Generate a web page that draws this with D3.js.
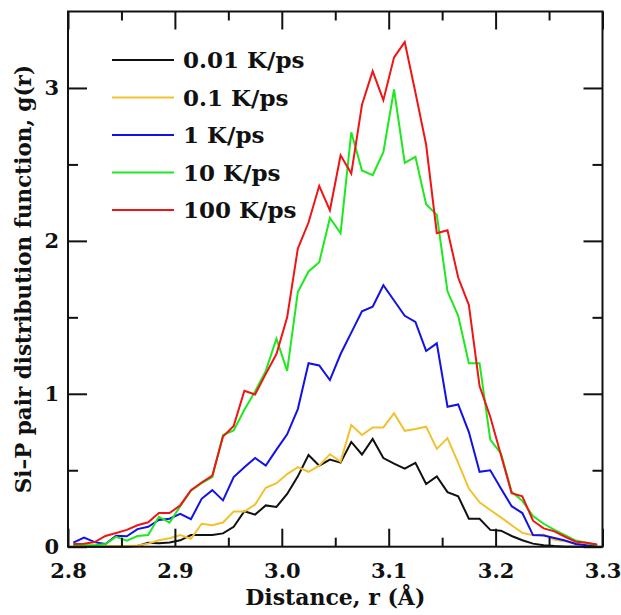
<!DOCTYPE html>
<html>
<head>
<meta charset="utf-8">
<script src="https://cdn.jsdelivr.net/npm/d3@7"></script>
<style>
  body { margin: 0; background: #fff; }
</style>
</head>
<body>
<div id="chart"></div>
<script>
// Si-P pair distribution, bin centres 2.805 .. 3.295
var rValues = d3.range(50).map(i => +(2.805 + i * 0.01).toFixed(3));

var rate001 = [0,0,0,0,0,0,0.005,0.026,0.022,0.028,0.042,0.076,0.076,0.076,0.087,0.13,
  0.232,0.21,0.27,0.26,0.345,0.46,0.6,0.53,0.57,0.55,0.685,0.603,0.705,0.58,
  0.543,0.51,0.548,0.41,0.46,0.357,0.33,0.183,0.183,0.11,0.105,0.07,0.042,0.02,0.01,0.004,0,0,0,0];
var rate01 = [0.004,0.004,0.004,0.004,0.004,0.004,0.008,0.02,0.042,0.055,0.076,0.052,0.15,0.14,0.158,0.23,
  0.23,0.275,0.385,0.415,0.475,0.52,0.49,0.53,0.605,0.557,0.795,0.73,0.78,0.78,
  0.873,0.758,0.77,0.785,0.64,0.71,0.548,0.38,0.29,0.24,0.192,0.14,0.09,0.075,0.08,0.045,0.035,0.02,0.01,0.005];
var rate1 = [0.026,0.06,0.03,0.017,0.072,0.068,0.115,0.13,0.175,0.183,0.215,0.18,0.313,0.37,0.303,0.455,
  0.52,0.58,0.53,0.635,0.735,0.9,1.2,1.185,1.09,1.26,1.4,1.54,1.57,1.71,
  1.61,1.51,1.47,1.28,1.33,0.915,0.93,0.75,0.49,0.5,0.38,0.265,0.22,0.076,0.073,0.057,0.04,0.018,0.01,0.006];
var rate10 = [0.01,0.01,0.01,0.017,0.065,0.04,0.07,0.076,0.196,0.157,0.265,0.366,0.415,0.455,0.73,0.76,
  0.895,1.015,1.15,1.36,1.15,1.665,1.8,1.86,2.15,2.05,2.71,2.46,2.43,2.58,
  2.99,2.51,2.55,2.24,2.17,1.67,1.51,1.2,1.2,0.7,0.61,0.36,0.3,0.2,0.15,0.11,0.076,0.04,0.026,0.01];
var rate100 = [0.017,0.02,0.03,0.07,0.09,0.11,0.14,0.16,0.22,0.22,0.27,0.37,0.42,0.465,0.72,0.79,
  1.02,0.995,1.13,1.26,1.5,1.95,2.12,2.36,2.2,2.56,2.44,2.89,3.11,2.92,
  3.2,3.3,2.97,2.63,2.05,2.07,1.76,1.58,1.05,0.85,0.6,0.35,0.33,0.17,0.12,0.1,0.065,0.033,0.026,0.015];

var seriesNames = ["0.01 K/ps", "0.1 K/ps", "1 K/ps", "10 K/ps", "100 K/ps"];
var seriesValues = [rate001, rate01, rate1, rate10, rate100];
var seriesColors = ["#111111", "#f2c12e", "#1212e6", "#1ee81e", "#f01414"];

var xMajor = [2.8, 2.9, 3.0, 3.1, 3.2, 3.3];
var xMinor = [2.85, 2.95, 3.05, 3.15, 3.25];
var yMajor = [0, 1, 2, 3];
var yMinor = [0.5, 1.5, 2.5];

var svgWidth = 621;
var svgHeight = 615;

var margin = {
    top: 11.5,
    bottom: 68.3,
    left: 68,
    right: 18.5
};

var width = svgWidth - margin.left - margin.right;
var height = svgHeight - margin.top - margin.bottom;

var svg = d3.select("#chart")
    .append("svg")
    .attr("width", svgWidth)
    .attr("height", svgHeight);

var chartGroup = svg.append("g")
    .attr("transform", `translate(${margin.left}, ${margin.top})`);

var xScale = d3.scaleLinear().domain([2.8, 3.3]).range([0, width]);
var yScale = d3.scaleLinear().domain([0, 3.5]).range([height, 0]);

function serifBold(sel, size) {
    sel.style("font-family", "'DejaVu Serif', serif")
        .style("font-weight", "bold")
        .style("font-size", size + "px")
        .style("fill", "#111");
}

// lines
var line = d3.line()
    .x((d, i) => xScale(rValues[i]))
    .y(d => yScale(d));

seriesValues.forEach(function(vals, k) {
    chartGroup.append("path")
        .datum(vals)
        .attr("fill", "none")
        .attr("stroke", seriesColors[k])
        .attr("stroke-width", 2)
        .attr("d", line);
});

// axes, ticks pointing inward
function styleAxis(g) {
    g.select(".domain").remove();
    g.selectAll(".tick line").attr("stroke", "#111").attr("stroke-width", 2);
    g.selectAll(".tick text").call(serifBold, 21);
}

chartGroup.append("g")
    .attr("transform", `translate(0, ${height})`)
    .call(d3.axisBottom(xScale).tickValues(xMajor).tickSize(-18).tickPadding(16).tickFormat(d3.format(".1f")))
    .call(styleAxis);
chartGroup.append("g")
    .attr("transform", `translate(0, ${height})`)
    .call(d3.axisBottom(xScale).tickValues(xMinor).tickSize(-9).tickFormat(""))
    .call(styleAxis);
chartGroup.append("g")
    .call(d3.axisTop(xScale).tickValues(xMajor).tickSize(-18).tickFormat(""))
    .call(styleAxis);
chartGroup.append("g")
    .call(d3.axisTop(xScale).tickValues(xMinor).tickSize(-9).tickFormat(""))
    .call(styleAxis);

chartGroup.append("g")
    .call(d3.axisLeft(yScale).tickValues(yMajor).tickSize(-19).tickPadding(9).tickFormat(d3.format("d")))
    .call(styleAxis);
chartGroup.append("g")
    .call(d3.axisLeft(yScale).tickValues(yMinor).tickSize(-10).tickFormat(""))
    .call(styleAxis);
chartGroup.append("g")
    .attr("transform", `translate(${width}, 0)`)
    .call(d3.axisRight(yScale).tickValues(yMajor).tickSize(-19).tickFormat(""))
    .call(styleAxis);
chartGroup.append("g")
    .attr("transform", `translate(${width}, 0)`)
    .call(d3.axisRight(yScale).tickValues(yMinor).tickSize(-10).tickFormat(""))
    .call(styleAxis);

chartGroup.append("rect")
    .attr("width", width)
    .attr("height", height)
    .attr("fill", "none")
    .attr("stroke", "#111")
    .attr("stroke-width", 2);

// legend
var legend = chartGroup.append("g")
    .attr("transform", "translate(44, 48.5)");

seriesNames.forEach(function(name, k) {
    var row = legend.append("g").attr("transform", `translate(0, ${k * 37.5})`);
    row.append("line")
        .attr("x1", 0).attr("x2", 62)
        .attr("stroke", seriesColors[k])
        .attr("stroke-width", 2);
    row.append("text")
        .attr("x", 71)
        .attr("y", 8)
        .text(name)
        .call(serifBold, 23);
});

// axis titles
chartGroup.append("text")
    .attr("x", width / 2)
    .attr("y", height + 58)
    .attr("text-anchor", "middle")
    .text("Distance, r (Å)")
    .call(serifBold, 22);

chartGroup.append("text")
    .attr("transform", `translate(${-margin.left + 31}, ${height / 2}) rotate(-90)`)
    .attr("text-anchor", "middle")
    .text("Si–P pair distribution function, g(r)")
    .call(serifBold, 21.5);
</script>
</body>
</html>
